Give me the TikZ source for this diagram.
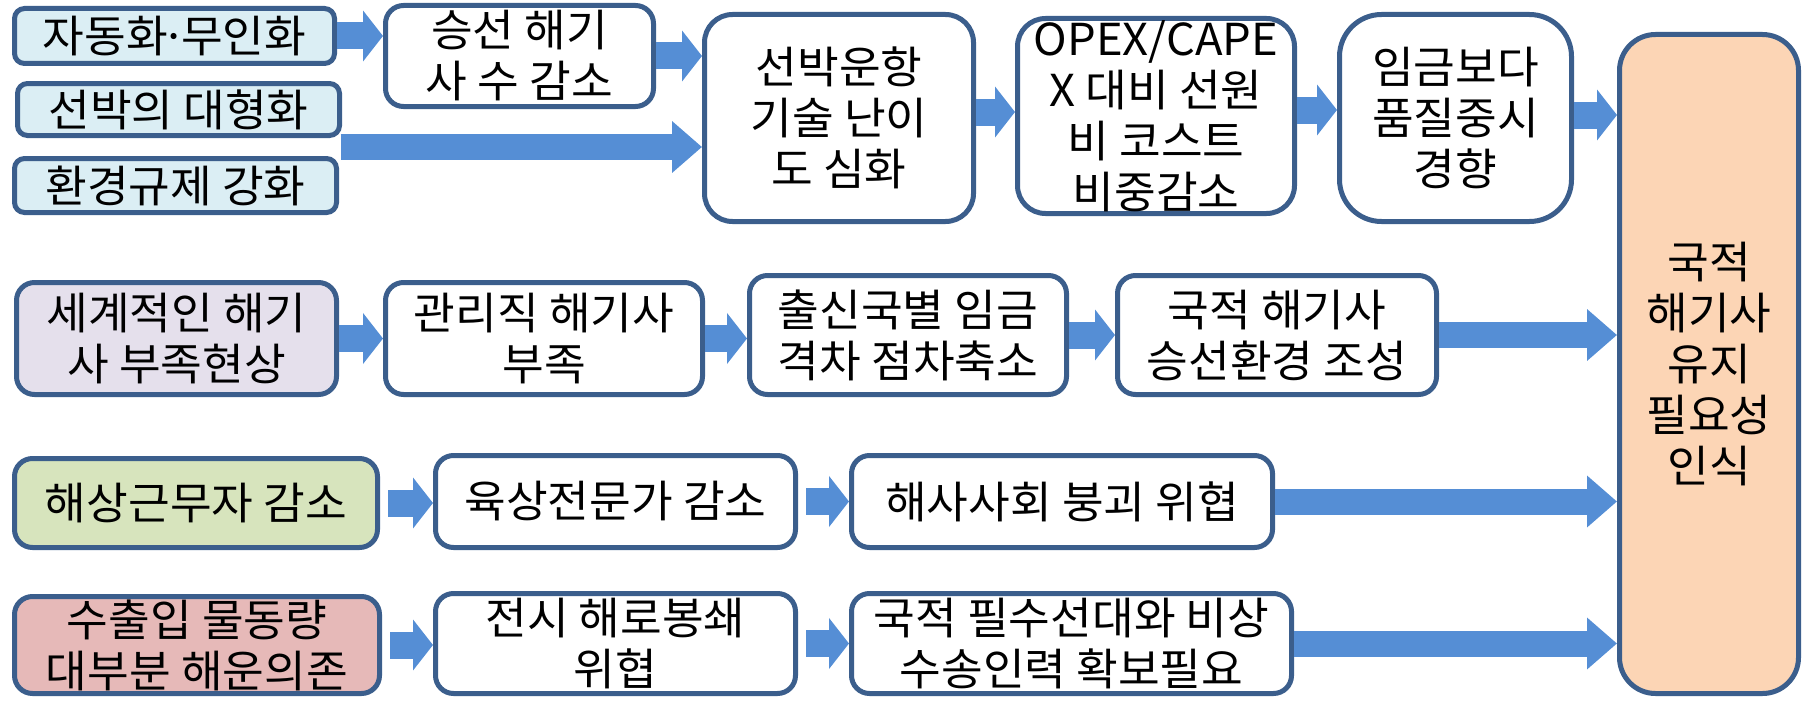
\documentclass[tikz,border=0pt]{standalone}
\usepackage{fontspec}
\setmainfont{Noto Sans CJK KR}[FakeStretch=1.03]
\usetikzlibrary{arrows.meta,calc}
\definecolor{bordercol}{HTML}{3B5E8C}
\definecolor{arrowblue}{HTML}{558ED5}
\definecolor{fillblue}{HTML}{DBEEF4}
\definecolor{filllav}{HTML}{E5E0EC}
\definecolor{fillgreen}{HTML}{D7E4BD}
\definecolor{fillpink}{HTML}{E6B9B8}
\definecolor{fillpeach}{HTML}{FCD5B5}
\tikzset{
  box/.style={draw=bordercol, line width=5pt, rounded corners=18pt, fill=white,
    align=center, inner sep=0pt, font=\fontsize{44}{51}\selectfont},
  cbox/.style={box, rounded corners=10pt},
  barrow/.style={draw=arrowblue, line width=27pt, -{Triangle[width=50pt,length=20pt]}},
  larrow/.style={draw=arrowblue, line width=26pt, -{Triangle[width=50pt,length=30pt]}},
}
\newcommand{\bx}[6]{% name, style, x1,y1,x2,y2
  \node[#2, minimum width=#5-#3-5, minimum height=#6-#4-5] (#1) at ({(#3+#5)/2},{(#4+#6)/2})}
\begin{document}
\begin{tikzpicture}[x=1pt,y=-1pt]
\useasboundingbox (0,0) rectangle (1804,701);
% row 1
\bx{auto}{cbox,fill=fillblue}{12}{6}{337}{66}{자동화\makebox[0.3em][c]{·}무인화};
\bx{large}{cbox,fill=fillblue}{15}{81}{342}{138}{선박의 대형화};
\bx{env}{cbox,fill=fillblue}{12}{156}{339}{215}{환경규제 강화};
\bx{seung}{box}{383}{3}{656}{109}{승선 해기\\사 수 감소};
\bx{sunbak}{box,rounded corners=28pt}{702}{12}{976}{224}{선박운항\\기술 난이\\도 심화};
\bx{opex}{box,rounded corners=28pt}{1015}{16}{1297}{216}{OPEX/CAPE\\X 대비 선원\\비 코스트\\비중감소};
\bx{imgeum}{box,rounded corners=42pt}{1337}{12}{1574}{224}{임금보다\\품질중시\\경향};
\bx{big}{box,rounded corners=36pt,fill=fillpeach}{1617}{32}{1801}{696}{국적\\해기사\\유지\\필요성\\인식};
% row 2
\bx{world}{box,fill=filllav}{14}{280}{339}{397}{세계적인 해기\\사 부족현상};
\bx{mgmt}{box}{383}{280}{705}{397}{관리직 해기사\\부족};
\bx{wage}{box}{747}{273}{1069}{397}{출신국별 임금\\격차 점차축소};
\bx{env2}{box}{1115}{273}{1439}{397}{국적 해기사\\승선환경 조성};
% row 3
\bx{sea}{box,fill=fillgreen}{12}{456}{380}{550}{해상근무자 감소};
\bx{land}{box}{433}{453}{798}{550}{육상전문가 감소};
\bx{collapse}{box}{849}{453}{1275}{550}{해사사회 붕괴 위협};
% row 4
\bx{export}{box,fill=fillpink}{12}{594}{382}{696}{수출입 물동량\\대부분 해운의존};
\bx{war}{box}{433}{591}{798}{696}{전시 해로봉쇄\\위협};
\bx{fleet}{box}{849}{591}{1294}{696}{국적 필수선대와 비상\\수송인력 확보필요};
% arrows row 1
\draw[barrow] (auto.east) -- (auto.east -| seung.west);
\draw[barrow] (seung.east) -- (seung.east -| sunbak.west);
\coordinate (mid) at ($(large.south east)!0.5!(env.north east)$);
\draw[larrow] (mid) -- (mid -| sunbak.west);
\draw[barrow] ($(sunbak.east)+(0,-6)$) -- ($(sunbak.east -| opex.west)+(0,-6)$);
\draw[barrow] ($(opex.east)+(0,-6)$) -- ($(opex.east -| imgeum.west)+(0,-6)$);
\draw[barrow] ($(imgeum.east)+(0,-3)$) -- ($(imgeum.east -| big.west)+(0,-3)$);
% arrows row 2
\draw[barrow] (world.east) -- (world.east -| mgmt.west);
\draw[barrow] (mgmt.east) -- (mgmt.east -| wage.west);
\draw[barrow] (wage.east) -- (wage.east -| env2.west);
\draw[larrow] (env2.east) -- (env2.east -| big.west);
% arrows row 3
\draw[barrow, shorten <=8pt] (sea.east) -- (sea.east -| land.west);
\draw[barrow, shorten <=8pt] (land.east) -- (land.east -| collapse.west);
\draw[larrow] (collapse.east) -- (collapse.east -| big.west);
% arrows row 4
\draw[barrow, shorten <=8pt] (export.east) -- (export.east -| war.west);
\draw[barrow, shorten <=8pt] (war.east) -- (war.east -| fleet.west);
\draw[larrow] (fleet.east) -- (fleet.east -| big.west);
\end{tikzpicture}
\end{document}
